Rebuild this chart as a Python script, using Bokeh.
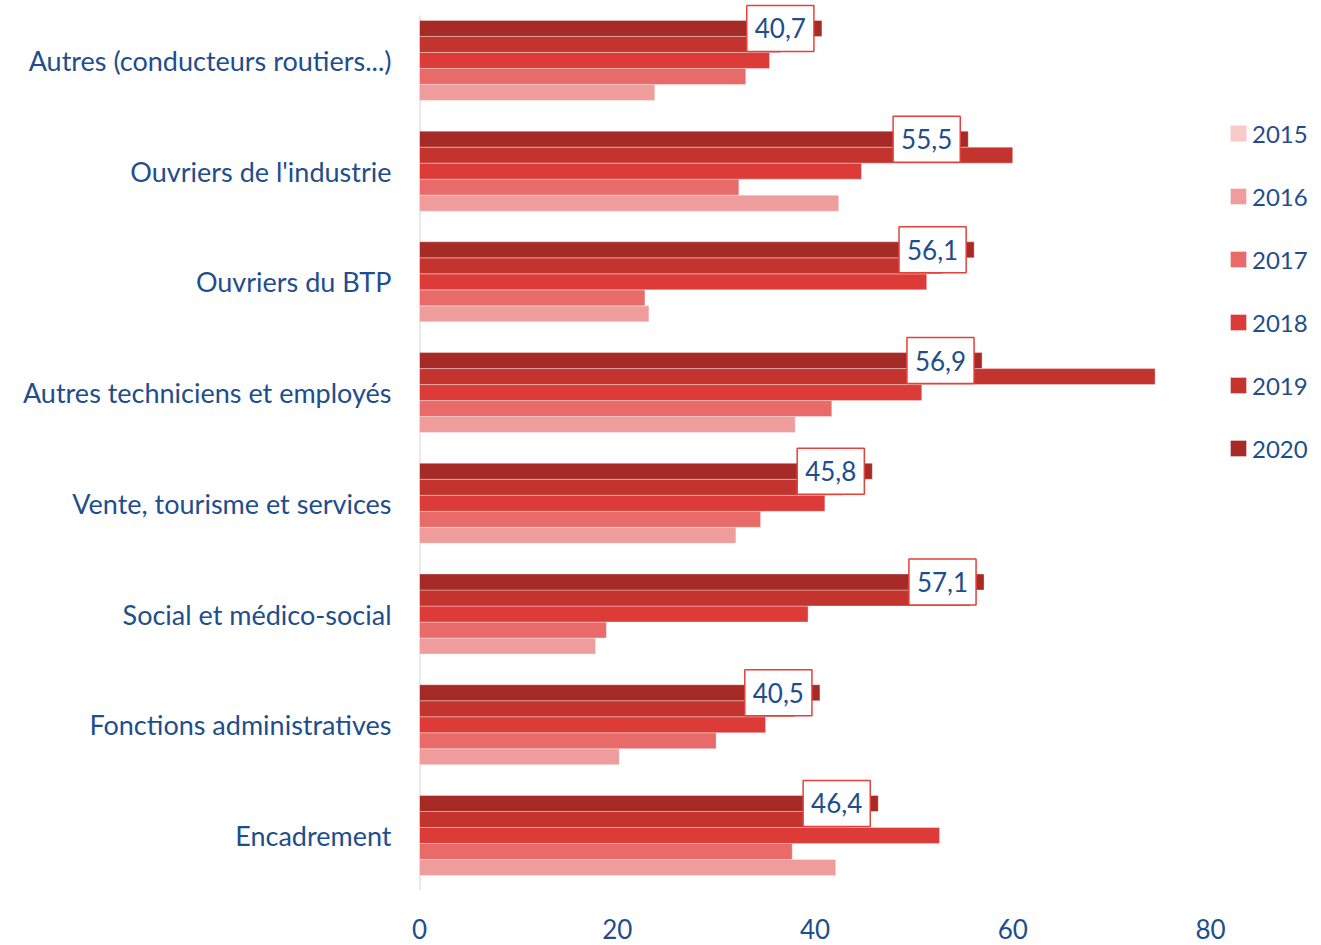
from bokeh.plotting import figure
from bokeh.models import Range1d, FixedTicker, Legend, LegendItem, ColumnDataSource
from bokeh.transform import dodge
from bokeh.core.properties import value
from bokeh.embed import file_html
from bokeh.resources import INLINE

categories = [
    "Autres (conducteurs routiers...)",
    "Ouvriers de l'industrie",
    "Ouvriers du BTP",
    "Autres techniciens et employés",
    "Vente, tourisme et services",
    "Social et médico-social",
    "Fonctions administratives",
    "Encadrement",
]
years = ["2015", "2016", "2017", "2018", "2019", "2020"]
v2015 = [None, None, None, None, None, None, None, None]  # no bar drawn in the source
v2016 = [23.8, 42.4, 23.2, 38.0, 32.0, 17.8, 20.2, 42.1]
v2017 = [33.0, 32.3, 22.8, 41.7, 34.5, 18.9, 30.0, 37.7]
v2018 = [35.4, 44.7, 51.3, 50.8, 41.0, 39.3, 35.0, 52.6]
v2019 = [36.5, 60.0, 52.9, 74.4, 42.8, 55.7, 37.9, 43.6]
v2020 = [40.7, 55.5, 56.1, 56.9, 45.8, 57.1, 40.5, 46.4]
x_ticks = [0, 20, 40, 60, 80]

colors = {
    "2015": "#F9CACA",
    "2016": "#EE9C9C",
    "2017": "#E86B6A",
    "2018": "#DC3B37",
    "2019": "#C3342E",
    "2020": "#A62A25",
}
TXT = "#1F4E8C"
FONT = "Lato"

n = len(categories)
pos = [n - 1 - i for i in range(n)]
src = ColumnDataSource(dict(
    pos=pos, cat=categories,
    v2015=v2015, v2016=v2016, v2017=v2017, v2018=v2018, v2019=v2019, v2020=v2020,
    lab=[f"{v:.1f}".replace(".", ",") for v in v2020],
))

Y0, Y_AXIS_TOP, Y1 = -0.497, 7.406, 7.523
p = figure(
    frame_width=894, frame_height=888,
    x_range=Range1d(0, 90.42), y_range=Range1d(Y0, Y1),
    output_backend="svg", toolbar_location=None,
    min_border_left=419, min_border_right=0, min_border_top=2, min_border_bottom=53,
)
p.outline_line_color = None
p.xgrid.visible = False
p.ygrid.visible = False
p.background_fill_color = "white"
p.border_fill_color = "white"

# vertical axis line (from the bottom of the plot to the top of the category block)
p.segment(x0=[0], y0=[Y0], x1=[0], y1=[Y_AXIS_TOP], line_color="#D6D6D6", line_width=2)

bh = 0.1445
offsets = {"2016": -2 * bh, "2017": -bh, "2018": 0.0, "2019": bh, "2020": 2 * bh}
renderers = {}
renderers["2015"] = p.hbar(y=dodge("pos", -3 * bh), right="v2015", left=0, height=bh,
                           source=src, fill_color=colors["2015"], line_color=None)
for yr in ["2016", "2017", "2018", "2019", "2020"]:
    renderers[yr] = p.hbar(y=dodge("pos", offsets[yr]), right="v" + yr, left=0, height=bh,
                           source=src, fill_color=colors[yr],
                           line_color="white", line_alpha=0.35, line_width=1)

p.text(x="v2020", y=dodge("pos", 2 * bh), text="lab", source=src,
       text_align="right", text_baseline="middle", x_offset=-8,
       text_font=value(FONT), text_font_size="26px", text_color=TXT,
       background_fill_color="white", border_line_color="#E4413D",
       border_line_width=1.5, padding=dict(left=8, right=8, top=13, bottom=13))

# axes
p.yaxis.ticker = FixedTicker(ticks=pos)
p.yaxis.major_label_overrides = {pp: c for pp, c in zip(pos, categories)}
p.yaxis.axis_line_color = None
p.yaxis.major_tick_line_color = None
p.yaxis.minor_tick_line_color = None
p.yaxis.major_tick_out = 0
p.yaxis.major_label_standoff = 28
p.yaxis.major_label_text_font = FONT
p.yaxis.major_label_text_font_size = "27px"
p.yaxis.major_label_text_color = TXT

p.xaxis.ticker = FixedTicker(ticks=x_ticks)
p.xaxis.axis_line_color = None
p.xaxis.major_tick_line_color = None
p.xaxis.minor_tick_line_color = None
p.xaxis.major_label_standoff = 22
p.xaxis.major_label_text_font = FONT
p.xaxis.major_label_text_font_size = "26px"
p.xaxis.major_label_text_color = TXT

legend = Legend(
    items=[LegendItem(label=yr, renderers=[renderers[yr]]) for yr in years],
    location=(809, 427), orientation="vertical",
    glyph_width=20, glyph_height=20, label_height=30, spacing=33,
    label_standoff=4, padding=0, margin=0,
    label_text_font=FONT, label_text_font_size="24px", label_text_color=TXT,
    border_line_color=None, background_fill_alpha=0,
)
p.add_layout(legend)

open("out.html", "w").write(file_html(p, INLINE))
